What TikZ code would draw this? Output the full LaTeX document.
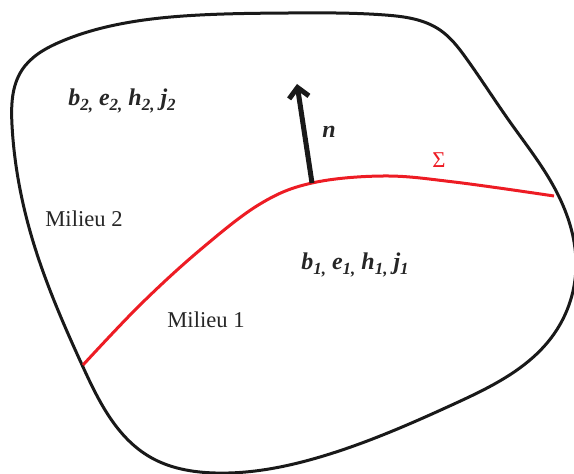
\documentclass[tikz,border=0pt]{standalone}
\usepackage{fontspec}
\setmainfont{Liberation Serif}
\usetikzlibrary{arrows.meta,hobby}
\definecolor{sigred}{RGB}{237,28,36}
\newcommand\lsub[1]{\raisebox{-0.45ex}{\fontsize{8.5}{8.5}\selectfont #1}}
\tikzset{
  outline/.style={line width=1.5pt, black!90},
  iface/.style={line width=1.5pt, sigred},
  normal/.style={line width=2.5pt, black!90, -{Straight Barb[length=5pt,width=10pt]}},
  lbl/.style={font=\fontsize{11.3}{13}\selectfont, text=black!85, inner sep=0pt},
  fld/.style={font=\fontsize{12}{14}\selectfont\bfseries\itshape, text=black!85, inner sep=0pt}
}
\begin{document}
\begin{tikzpicture}[x=0.5pt,y=-0.5pt]
\clip (0,0) rectangle (574,474);
\draw[outline, use Hobby shortcut, closed=true]
(200,15) .. (290,13) .. (385,15) .. (440,30) .. (466,58) .. (510,122) .. (554,187)
.. (576,265) .. (554,334) .. (454,404) .. (320,457) .. (215,473)
.. (150,457) .. (83,367) .. (32,238) .. (12,125) .. (22,70) .. (60,42) .. (120,24);
\draw[iface] plot[smooth, tension=0.6] coordinates {
(83,365) (140,305) (200,250) (260,204) (312,183) (384,176) (454,182) (554,196)};
\coordinate (base) at (312,183);
\coordinate (tip) at (297,84);
\draw[normal] (base) -- (tip);
\node[fld] (n) at (329,132) {n};
\node[lbl, text=sigred] (sigma) at (439,160) {Σ};
\node[lbl] (m2) at (84,219) {Milieu 2};
\node[lbl] (m1) at (206,320) {Milieu 1};
\node[fld] (f2) at (122,101) {b\lsub{2,} e\lsub{2,} h\lsub{2,} j\lsub{2}};
\node[fld] (f1) at (355,265) {b\lsub{1,} e\lsub{1,} h\lsub{1,} j\lsub{1}};
\end{tikzpicture}
\end{document}
